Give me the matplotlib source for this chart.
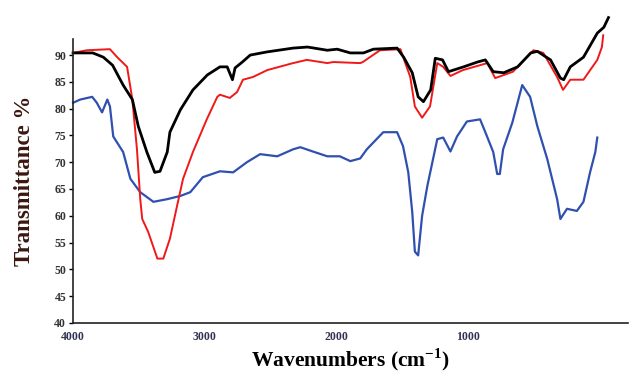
import matplotlib
matplotlib.use("Agg")
import matplotlib.pyplot as plt

# FTIR spectra (wavenumber cm-1, transmittance %)
black_wn = [4000, 3850, 3770, 3700, 3620, 3550, 3505, 3440, 3380, 3340,
            3285, 3265, 3185, 3090, 2980, 2885, 2830, 2790, 2770, 2715,
            2655, 2525, 2330, 2220, 2070, 1995, 1895, 1820, 1795, 1720,
            1540, 1490, 1425, 1380, 1340, 1285, 1250, 1195, 1150, 1035,
            930, 870, 810, 730, 625, 525, 475, 375, 300, 275,
            225, 125, 20, -30, -65]
black_t = [90.4, 90.4, 89.6, 88.1, 84.4, 81.7, 76.7, 71.9, 68.1, 68.3,
           71.9, 75.6, 79.8, 83.5, 86.3, 87.8, 87.8, 85.4, 87.6, 88.7,
           90.0, 90.6, 91.3, 91.5, 90.9, 91.1, 90.4, 90.4, 90.4, 91.1,
           91.3, 89.6, 86.7, 82.2, 81.3, 83.5, 89.4, 89.1, 86.9, 87.8,
           88.7, 89.1, 86.9, 86.7, 87.8, 90.4, 90.7, 89.1, 85.7, 85.4,
           87.8, 89.6, 94.1, 95.2, 97.0]

red_wn = [4000, 3895, 3720, 3665, 3590, 3550, 3515, 3490, 3475, 3430,
          3360, 3315, 3265, 3210, 3165, 3090, 2985, 2905, 2885, 2810,
          2755, 2710, 2635, 2525, 2330, 2225, 2070, 2025, 1820, 1800,
          1670, 1515, 1440, 1405, 1350, 1290, 1235, 1190, 1135, 1040,
          855, 795, 660, 505, 430, 325, 280, 225, 125, 20,
          -15, -25]
red_t = [90.4, 90.9, 91.1, 89.6, 87.8, 81.7, 72.4, 63.1, 59.4, 57.0,
         52.0, 52.0, 55.7, 61.9, 66.9, 71.9, 78.0, 82.2, 82.6, 82.0,
         83.1, 85.4, 85.9, 87.2, 88.5, 89.1, 88.5, 88.7, 88.5, 88.7,
         90.9, 91.1, 85.9, 80.4, 78.3, 80.4, 88.5, 87.8, 86.1, 87.2,
         88.5, 85.7, 86.9, 90.9, 90.4, 85.9, 83.5, 85.4, 85.4, 89.1,
         91.5, 93.7]

blue_wn = [4000, 3945, 3855, 3820, 3780, 3740, 3720, 3695, 3620, 3565,
           3490, 3390, 3285, 3185, 3110, 3015, 2885, 2785, 2680, 2580,
           2450, 2330, 2275, 2180, 2070, 1975, 1895, 1820, 1770, 1645,
           1540, 1495, 1455, 1425, 1405, 1380, 1350, 1310, 1235, 1190,
           1135, 1085, 1010, 910, 870, 810, 780, 760, 735, 665,
           590, 530, 475, 400, 325, 300, 250, 175, 125, 75,
           35, 20]
blue_t = [81.1, 81.7, 82.2, 81.1, 79.3, 81.7, 80.4, 74.8, 71.9, 66.9,
          64.4, 62.6, 63.1, 63.7, 64.4, 67.2, 68.3, 68.1, 70.0, 71.5,
          71.1, 72.4, 72.8, 72.0, 71.1, 71.1, 70.2, 70.7, 72.4, 75.6,
          75.6, 73.0, 68.1, 60.7, 53.3, 52.6, 60.0, 65.6, 74.3, 74.6,
          72.0, 74.8, 77.6, 78.0, 75.6, 71.9, 67.8, 67.8, 72.4, 77.4,
          84.4, 82.2, 76.7, 70.6, 63.1, 59.4, 61.3, 60.9, 62.6, 68.1,
          71.9, 74.6]

y_ticks = [40, 45, 50, 55, 60, 65, 70, 75, 80, 85, 90]
x_ticks = [4000, 3000, 2000, 1000]

plt.rcParams["font.family"] = ["Liberation Serif", "DejaVu Serif"]
plt.rcParams["mathtext.fontset"] = "custom"
plt.rcParams["mathtext.bf"] = "Liberation Serif:bold"

fig = plt.figure(figsize=(6.3, 3.75), dpi=100)
ax = fig.add_axes([0.116, 0.139, 0.881, 0.757])

ax.plot(blue_wn, blue_t, color="#3050b0", lw=1.6, clip_on=False)
ax.plot(red_wn, red_t, color="#f01818", lw=1.4, clip_on=False)
ax.plot(black_wn, black_t, color="black", lw=2.0, clip_on=False)

ax.set_xlim(4000, -214)
ax.set_ylim(40, 93)

ax.set_yticks(y_ticks)
ax.set_xticks(x_ticks)
ax.tick_params(axis="y", direction="out", length=3, width=1,
               labelsize=8.5, labelcolor="#333333", pad=2)
ax.tick_params(axis="x", length=0, labelsize=8.5, labelcolor="#333355", pad=6)
for lab in ax.get_xticklabels() + ax.get_yticklabels():
    lab.set_fontweight("bold")

for side in ["top", "right"]:
    ax.spines[side].set_visible(False)
for side in ["left", "bottom"]:
    ax.spines[side].set_linewidth(1.2)
    ax.spines[side].set_color("#222222")

ax.set_xlabel("Wavenumbers (cm$^{\\mathbf{-1}}$)", fontsize=15.5,
              fontweight="bold", labelpad=2)
ax.set_ylabel("Transmittance %", fontsize=16.5, fontweight="bold",
              color="#3a1810", labelpad=14)

fig.savefig("out.png", dpi=100)
